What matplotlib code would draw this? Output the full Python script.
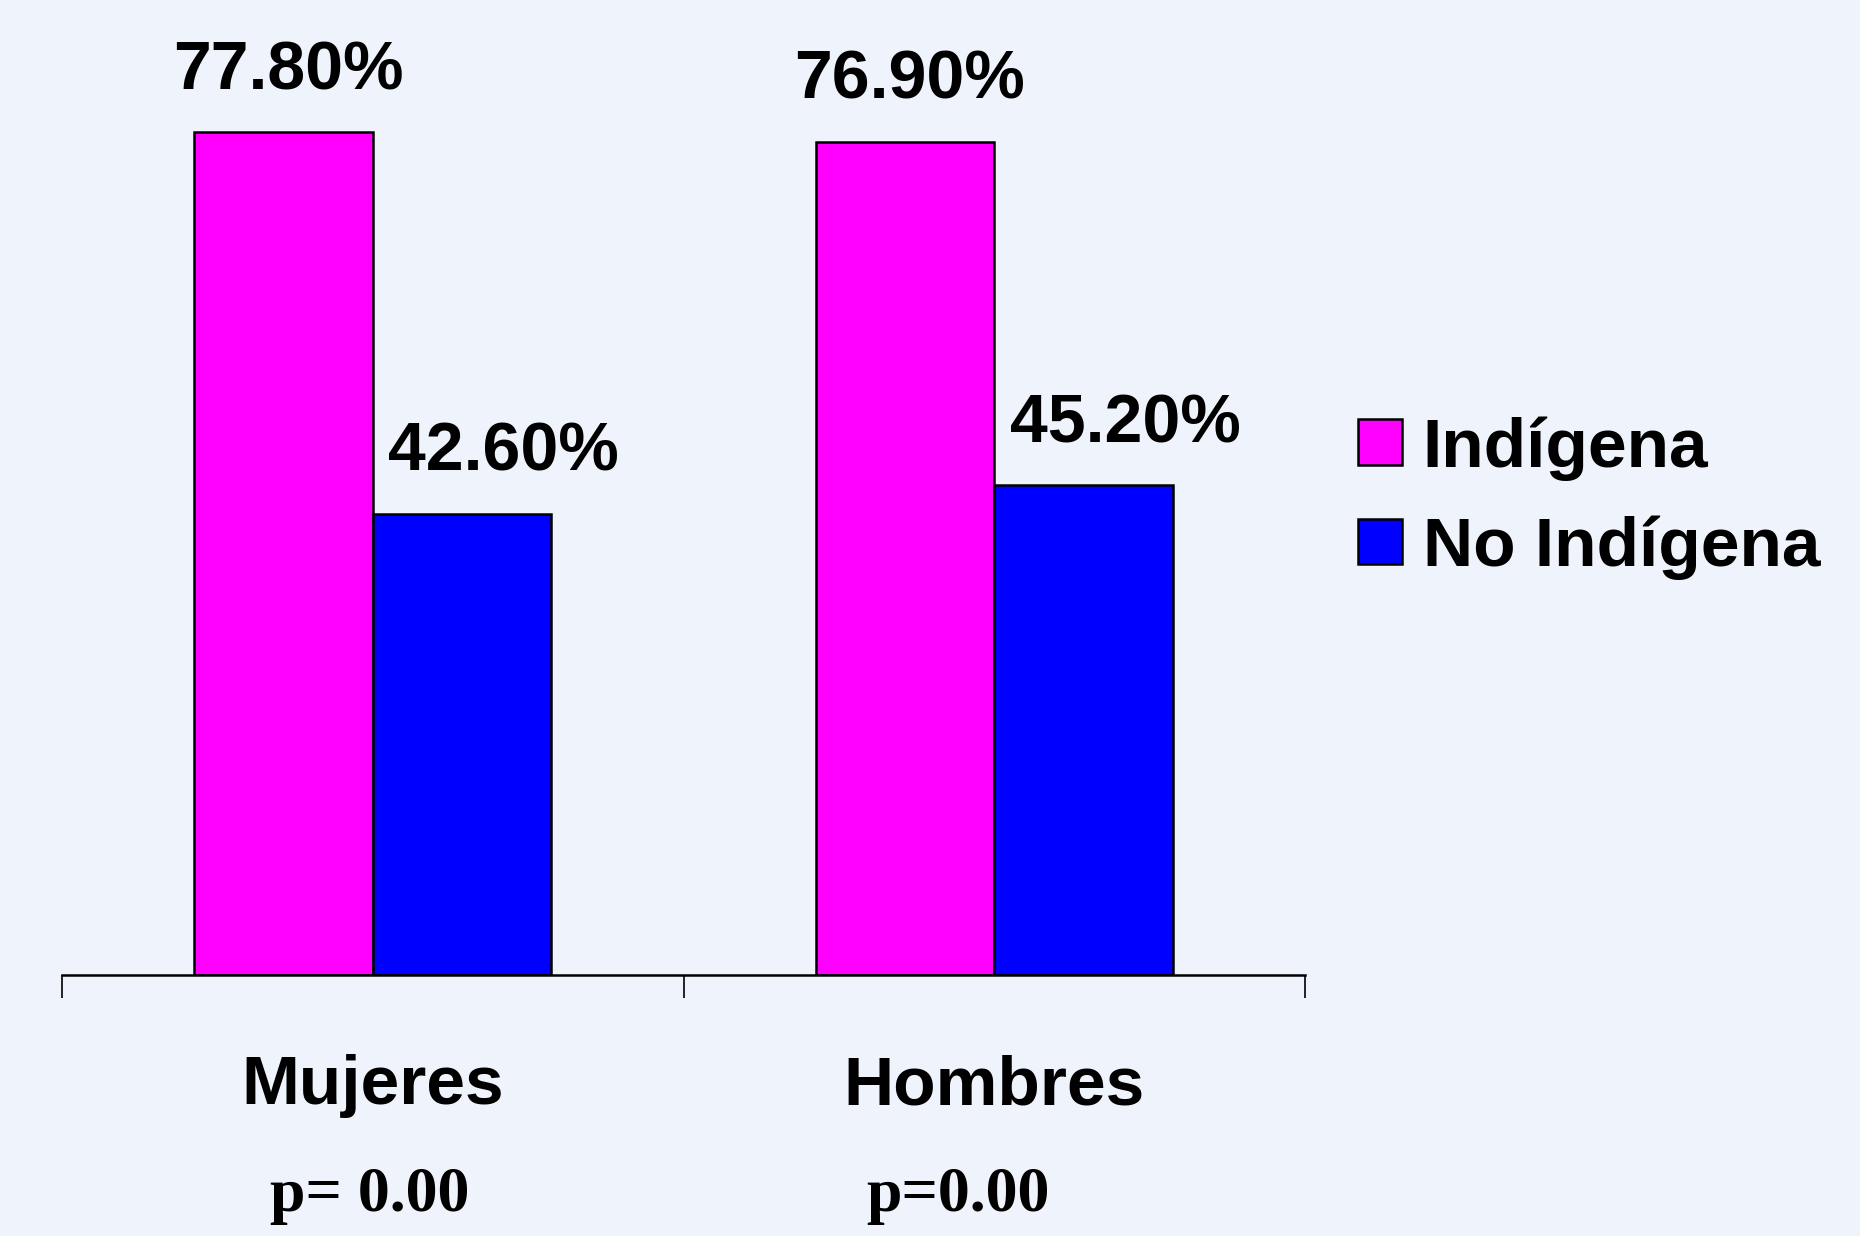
import matplotlib
matplotlib.use("Agg")
import matplotlib.pyplot as plt
import numpy as np
from matplotlib.patches import Patch

# ------------------------------
# Data
# ------------------------------
categories = ["Mujeres", "Hombres"]
p_labels = ["p= 0.00", "p=0.00"]
series_names = ["Indígena", "No Indígena"]
indigena = [77.8, 76.9]
no_indigena = [42.6, 45.2]

# ------------------------------
# Settings
# ------------------------------
bg = "#EEF3FC"
colors = ["#FF00FF", "#0000FF"]
bar_w = 0.287
sans = ["Liberation Sans", "DejaVu Sans"]
serif = ["Liberation Serif", "DejaVu Serif"]

fig = plt.figure(figsize=(18.6, 12.36), dpi=100, facecolor=bg)
ax = fig.add_axes([62 / 1860, 1 - 975 / 1236, (1305 - 62) / 1860, 975 / 1236])
ax.set_facecolor(bg)

x = np.arange(len(categories))
b1 = ax.bar(x - bar_w / 2, indigena, bar_w, color=colors[0], edgecolor="black", linewidth=1.8)
b2 = ax.bar(x + bar_w / 2, no_indigena, bar_w, color=colors[1], edgecolor="black", linewidth=1.8)

# value labels
for bars, vals, dx in [(b1, indigena, 3.5), (b2, no_indigena, 30)]:
    for rect, v in zip(bars, vals):
        ax.annotate(f"{v:.2f}%", (rect.get_x() + rect.get_width() / 2, v),
                    xytext=(dx, 31), textcoords="offset points",
                    ha="center", va="baseline", fontsize=49,
                    fontweight="bold", family=sans)

ax.set_xlim(-0.5, 1.5)
ax.set_ylim(0, 90)
for s in ["top", "right", "left"]:
    ax.spines[s].set_visible(False)
ax.spines["bottom"].set_linewidth(1.8)
ax.set_yticks([])

ax.set_xticks([-0.5, 0.5, 1.5])
ax.set_xticklabels([])
ax.tick_params(axis="x", which="major", direction="out", length=16.5, width=1.2)
ax.set_xticks(x, minor=True)
ax.set_xticklabels(categories, minor=True, fontsize=50, fontweight="bold", family=sans)
ax.tick_params(axis="x", which="minor", length=0, pad=57)

# p-values under the category labels
for xi, lab, dx in zip(x, p_labels, [-2, -26]):
    ax.annotate(lab, (xi, 0), xytext=(dx, -170), textcoords="offset points",
                ha="center", va="baseline", fontsize=46, fontweight="bold",
                family=serif, annotation_clip=False)

handles = [Patch(facecolor=c, edgecolor="black", linewidth=1.8) for c in colors]
fig.legend(handles, series_names, loc="center left",
           bbox_to_anchor=(1358 / 1860, 1 - 498 / 1236), frameon=False,
           prop={"family": sans, "weight": "bold", "size": 50},
           handlelength=0.63, handleheight=0.63, handletextpad=0.3,
           labelspacing=0.5, borderpad=0, borderaxespad=0)

fig.savefig("out.png", dpi=100, facecolor=bg)
